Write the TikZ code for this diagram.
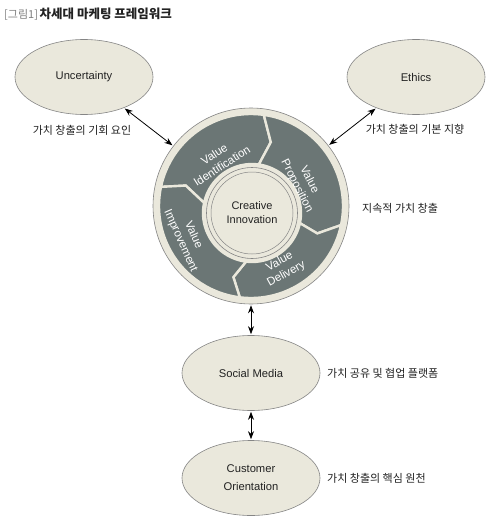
\documentclass[tikz,border=0pt]{standalone}
\usepackage{fontspec}
\setmainfont{Liberation Sans}
\newfontfamily\kr{Noto Sans CJK KR}
\usetikzlibrary{shapes.geometric,arrows.meta,calc}
\definecolor{beige}{HTML}{EAE8DC}
\definecolor{segc}{HTML}{6B7675}
\definecolor{edge}{HTML}{858585}
\definecolor{ink}{HTML}{222222}
\newcommand\ringseg[2]{%
  \filldraw[fill=segc, draw=beige, line width=2.4pt, line join=miter]
    ($(O)+(#1:92pt)$) arc[start angle=#1, end angle=#2, radius=92pt]
    -- ($(M)+({#2-8}:70pt)$) -- ($(I)+(#2:49pt)$)
    arc[start angle=#2, end angle=#1, radius=49pt]
    -- ($(M)+({#1-8}:70pt)$) -- cycle;}
\begin{document}
\begin{tikzpicture}[x=1pt,y=-1pt,
  oval/.style={ellipse, draw=edge, line width=0.6pt, fill=beige, minimum width=138pt, minimum height=75pt, inner sep=0pt, font=\fontsize{11.2}{18}\selectfont, text=ink, align=center},
  segtext/.style={text=white, font=\fontsize{11.5}{14}\selectfont, align=center},
  krlab/.style={font=\kr\fontsize{11}{12}\selectfont, text=ink, inner sep=0pt},
  dbl/.style={{Stealth[length=8pt,width=6pt]}-{Stealth[length=8pt,width=6pt]}, line width=0.8pt, black, shorten <=1pt, shorten >=1pt}]
\useasboundingbox (0,0) rectangle (498,532);
\fill[white] (0,0) rectangle (498,532);
% title
\node[anchor=west, inner sep=0pt] (title) at (4,14) {{\kr\fontsize{11}{12}\selectfont\color{gray}[그림1]}\,{\kr\bfseries\fontsize{12.5}{13}\selectfont\color{ink}차세대 마케팅 프레임워크}};
% ellipses
\node[oval] (unc) at (84,77) {Uncertainty};
\node[oval] (eth) at (416,77) {Ethics};
\node[oval] (sm) at (251,373) {Social Media};
\node[oval] (co) at (251,478) {Customer\\Orientation};
% ring
\coordinate (O) at (251,206);
\coordinate (I) at (252,213);
\coordinate (M) at ($(O)!0.5!(I)$);
\node[circle, draw=edge, line width=0.6pt, fill=beige, minimum size=196pt, inner sep=0pt] (ring) at (O) {};
\ringseg{168}{82}
\ringseg{82}{-12}
\ringseg{-12}{-97}
\ringseg{263}{168}
\node[circle, draw=edge, line width=0.6pt, fill=beige, minimum size=91pt, inner sep=0pt] (inner) at (I) {};
\node[circle, draw=edge, line width=0.5pt, fill=beige, minimum size=82pt, inner sep=0pt, font=\fontsize{11}{14}\selectfont, text=ink, align=center] (ci) at (I) {Creative\\Innovation};
\node[segtext, rotate=33] (vi) at (218,160) {Value\\Identification};
\node[segtext, rotate=-63] (vp) at (303,183) {Value\\Proposition};
\node[segtext, rotate=29] (vd) at (283,268) {Value\\Delivery};
\node[segtext, rotate=-66] (vm) at (187,238) {Value\\Improvement};
% connectors
\draw[dbl] (unc) -- (ring);
\draw[dbl] (eth) -- (ring);
\draw[dbl] (ring.south) -- (sm.north);
\draw[dbl] (sm.south) -- (co.north);
% labels
\node[krlab] (l1) at (82,130) {가치 창출의 기회 요인};
\node[krlab] (l2) at (415,129) {가치 창출의 기본 지향};
\node[krlab, anchor=west] (l3) at (362,208) {지속적 가치 창출};
\node[krlab, anchor=west] (l4) at (327,373) {가치 공유 및 협업 플랫폼};
\node[krlab, anchor=west] (l5) at (327,478) {가치 창출의 핵심 원천};
\end{tikzpicture}
\end{document}
